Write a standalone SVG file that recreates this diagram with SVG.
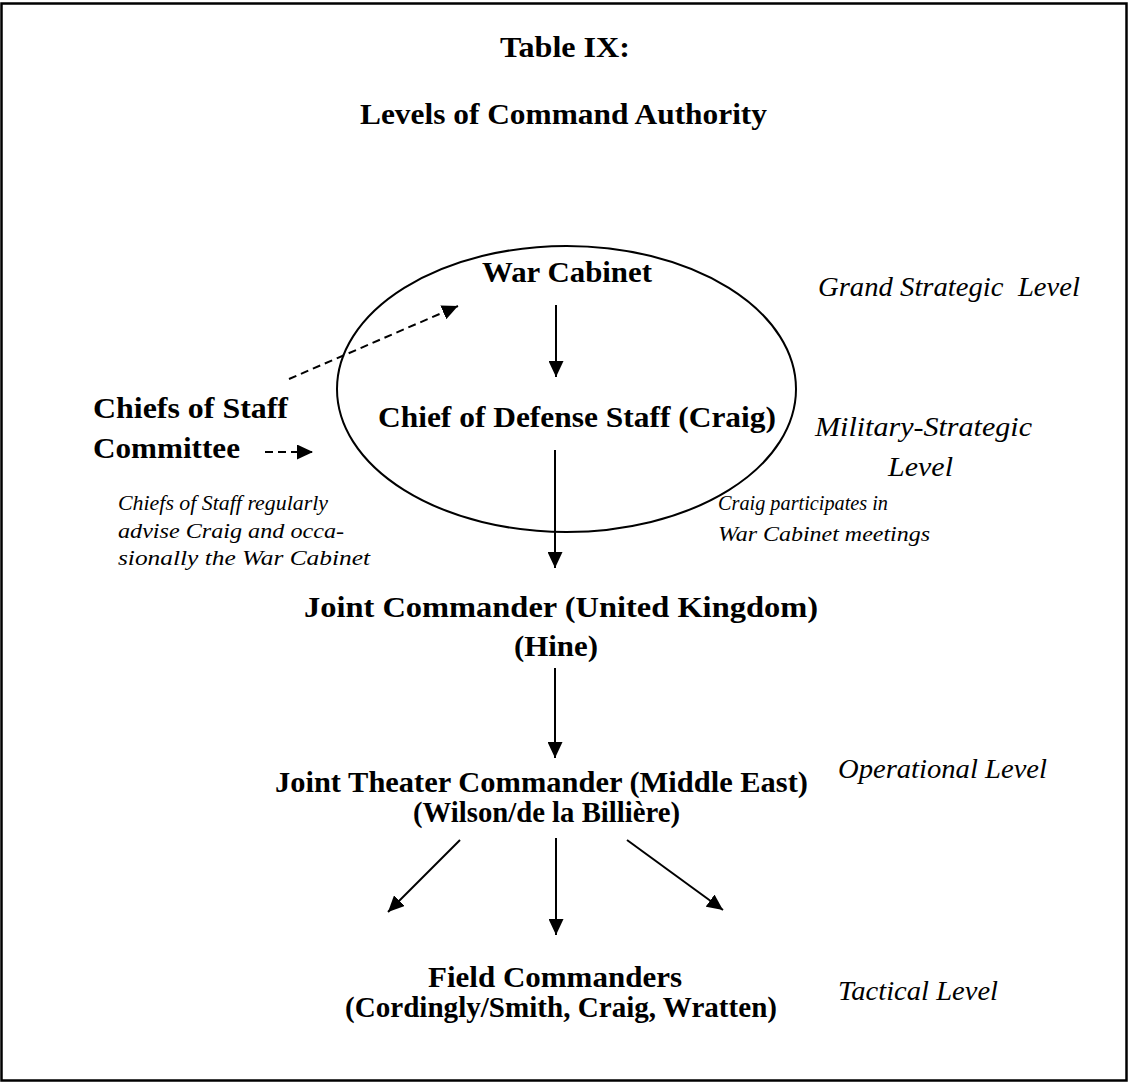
<svg xmlns="http://www.w3.org/2000/svg" width="1130" height="1086" viewBox="0 0 1130 1086">
  <style>
    .b { font-family: "Liberation Serif", "Times New Roman", serif; font-weight: bold; font-size: 29px; fill: #000; }
    .i { font-family: "Liberation Serif", "Times New Roman", serif; font-style: italic; font-size: 27px; fill: #000; }
    .n { font-family: "Liberation Serif", "Times New Roman", serif; font-style: italic; font-size: 22px; fill: #000; }
    .ln { stroke: #000; stroke-width: 2; fill: none; }
    .dash { stroke-dasharray: 8 5; }
  </style>
  <defs>
    <marker id="head" viewBox="0 0 16 15" refX="16" refY="7.5" markerWidth="16" markerHeight="15" markerUnits="userSpaceOnUse" orient="auto">
      <path d="M0,0 L16,7.5 L0,15 Z" fill="#000"/>
    </marker>
  </defs>

  <rect width="1130" height="1086" fill="#fff"/>
  <!-- page frame -->
  <rect x="1.5" y="3.5" width="1125" height="1077" fill="none" stroke="#000" stroke-width="2.5"/>

  <!-- heading -->
  <g id="title">
    <text class="b" x="500" y="57" textLength="130" lengthAdjust="spacingAndGlyphs">Table IX:</text>
    <text class="b" x="360" y="124" textLength="407" lengthAdjust="spacingAndGlyphs">Levels of Command Authority</text>
  </g>

  <!-- strategic circle -->
  <g id="strategic-ring">
    <ellipse cx="566.5" cy="389" rx="229.5" ry="143" fill="none" stroke="#000" stroke-width="2"/>
  </g>

  <g id="war-cabinet">
    <text class="b" x="482" y="282" textLength="170" lengthAdjust="spacingAndGlyphs">War Cabinet</text>
  </g>
  <g id="cds">
    <text class="b" x="378" y="427" textLength="398" lengthAdjust="spacingAndGlyphs">Chief of Defense Staff (Craig)</text>
  </g>
  <g id="chiefs-of-staff">
    <text class="b" x="93" y="418" textLength="195" lengthAdjust="spacingAndGlyphs">Chiefs of Staff</text>
    <text class="b" x="93" y="458" textLength="147" lengthAdjust="spacingAndGlyphs">Committee</text>
  </g>
  <g id="cos-note">
    <text class="n" x="118" y="510" textLength="210" lengthAdjust="spacingAndGlyphs">Chiefs of Staff regularly</text>
    <text class="n" x="118" y="538" textLength="226" lengthAdjust="spacingAndGlyphs">advise Craig and occa-</text>
    <text class="n" x="118" y="565" textLength="252" lengthAdjust="spacingAndGlyphs">sionally the War Cabinet</text>
  </g>
  <g id="craig-note">
    <text class="n" x="718" y="510" font-size="20" textLength="170" lengthAdjust="spacingAndGlyphs">Craig participates in</text>
    <text class="n" x="718" y="541" font-size="20" textLength="212" lengthAdjust="spacingAndGlyphs">War Cabinet meetings</text>
  </g>
  <g id="joint-commander">
    <text class="b" x="304" y="617" textLength="514" lengthAdjust="spacingAndGlyphs">Joint Commander (United Kingdom)</text>
    <text class="b" x="514" y="656" textLength="84" lengthAdjust="spacingAndGlyphs">(Hine)</text>
  </g>
  <g id="theater-commander">
    <text class="b" x="275" y="792" textLength="533" lengthAdjust="spacingAndGlyphs">Joint Theater Commander (Middle East)</text>
    <text class="b" x="413" y="822" textLength="267" lengthAdjust="spacingAndGlyphs">(Wilson/de la Billière)</text>
  </g>
  <g id="field-commanders">
    <text class="b" x="428" y="987" textLength="254" lengthAdjust="spacingAndGlyphs">Field Commanders</text>
    <text class="b" x="345" y="1017" textLength="432" lengthAdjust="spacingAndGlyphs">(Cordingly/Smith, Craig, Wratten)</text>
  </g>

  <!-- level captions -->
  <g id="levels">
    <text class="i" x="818" y="296" textLength="262" lengthAdjust="spacingAndGlyphs" xml:space="preserve">Grand Strategic  Level</text>
    <text class="i" x="815" y="436" textLength="217" lengthAdjust="spacingAndGlyphs">Military-Strategic</text>
    <text class="i" x="888" y="476" textLength="65" lengthAdjust="spacingAndGlyphs">Level</text>
    <text class="i" x="838" y="778" textLength="209" lengthAdjust="spacingAndGlyphs">Operational Level</text>
    <text class="i" x="838" y="1000" textLength="160" lengthAdjust="spacingAndGlyphs">Tactical Level</text>
  </g>

  <!-- lines of authority -->
  <g id="connectors">
    <path class="ln" d="M556,305 L556,377" marker-end="url(#head)"/>
    <path class="ln" d="M555,450 L555,568" marker-end="url(#head)"/>
    <path class="ln" d="M555,668 L555,758" marker-end="url(#head)"/>
    <path class="ln" d="M460,840 L388,912" marker-end="url(#head)"/>
    <path class="ln" d="M556,838 L556,935" marker-end="url(#head)"/>
    <path class="ln" d="M627,840 L723,910" marker-end="url(#head)"/>
    <path class="ln dash" d="M289,379 L458,306" marker-end="url(#head)"/>
    <path class="ln dash" d="M265,452 L313,452" marker-end="url(#head)"/>
  </g>
</svg>
